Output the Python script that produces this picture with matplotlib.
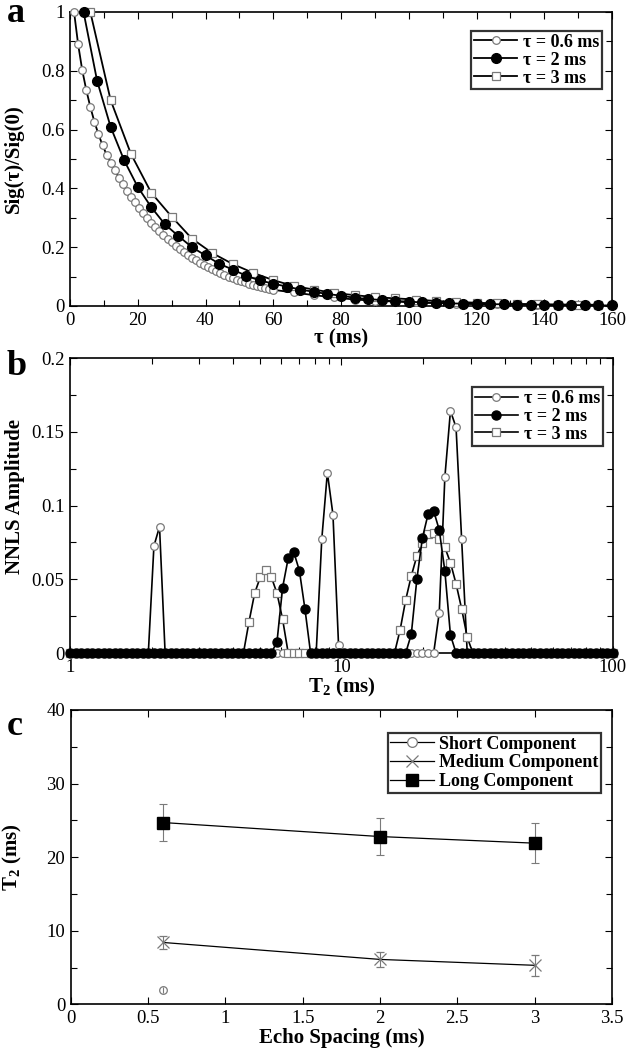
import numpy as np
import matplotlib
matplotlib.use("Agg")
import matplotlib.pyplot as plt
from matplotlib.lines import Line2D
from matplotlib.ticker import MultipleLocator, FixedLocator, FuncFormatter, NullFormatter

plt.rcParams["font.family"] = ["Liberation Serif", "DejaVu Serif"]
plt.rcParams["mathtext.fontset"] = "custom"
plt.rcParams["mathtext.rm"] = "Liberation Serif"
plt.rcParams["mathtext.bf"] = "Liberation Serif:bold"
plt.rcParams["mathtext.it"] = "Liberation Serif:italic"

# ---- (a) normalised decay, echo time (ms) vs Sig(t)/Sig(0)
t_06 = [1.2, 2.4, 3.6, 4.8, 6.0, 7.2, 8.4, 9.6, 10.8, 12.0, 13.2, 14.4, 15.6, 16.8,
        18.0, 19.2, 20.4, 21.6, 22.8, 24.0, 25.2, 26.4, 27.6, 28.8, 30.0, 31.2, 32.4,
        33.6, 34.8, 36.0, 37.2, 38.4, 39.6, 40.8, 42.0, 43.2, 44.4, 45.6, 46.8, 48.0,
        49.2, 50.4, 51.6, 52.8, 54.0, 55.2, 56.4, 57.6, 58.8, 60.0,
        66, 72, 78, 84, 90, 96, 102, 108, 114, 120, 126, 132, 138, 144, 150, 156]
sig_06 = [1.000, 0.890, 0.803, 0.735, 0.677, 0.627, 0.584, 0.547, 0.515, 0.488, 0.462,
          0.437, 0.414, 0.392, 0.372, 0.353, 0.335, 0.317, 0.300, 0.284, 0.269, 0.255,
          0.241, 0.228, 0.216, 0.204, 0.193, 0.183, 0.173, 0.164, 0.155, 0.147, 0.139,
          0.132, 0.125, 0.118, 0.112, 0.106, 0.100, 0.095, 0.090, 0.085, 0.080, 0.076,
          0.072, 0.068, 0.064, 0.061, 0.058, 0.055,
          0.046, 0.037, 0.029, 0.022, 0.018, 0.015, 0.012, 0.010, 0.008, 0.007, 0.006,
          0.005, 0.004, 0.004, 0.003, 0.003]

t_2 = [4, 8, 12, 16, 20, 24, 28, 32, 36, 40, 44, 48, 52, 56, 60, 64, 68, 72, 76, 80,
       84, 88, 92, 96, 100, 104, 108, 112, 116, 120, 124, 128, 132, 136, 140, 144, 148,
       152, 156, 160]
sig_2 = [1.000, 0.766, 0.609, 0.495, 0.405, 0.336, 0.278, 0.238, 0.200, 0.172, 0.144,
         0.124, 0.103, 0.087, 0.076, 0.066, 0.056, 0.048, 0.041, 0.035, 0.028, 0.024,
         0.020, 0.017, 0.015, 0.012, 0.011, 0.009, 0.008, 0.007, 0.006, 0.006, 0.005,
         0.005, 0.004, 0.004, 0.003, 0.003, 0.002, 0.002]

t_3 = [6, 12, 18, 24, 30, 36, 42, 48, 54, 60, 66, 72, 78, 84, 90, 96, 102, 108, 114,
       120, 126, 132, 138, 144, 150, 156]
sig_3 = [1.000, 0.700, 0.517, 0.385, 0.304, 0.229, 0.180, 0.143, 0.113, 0.088, 0.068,
         0.056, 0.044, 0.037, 0.030, 0.026, 0.022, 0.017, 0.014, 0.011, 0.009, 0.007,
         0.006, 0.005, 0.005, 0.004]

# ---- (b) NNLS spectra on a log-spaced T2 grid, non-zero bins: start index -> amplitudes
n_bins = 98
peaks_06 = {15: [0.0726, 0.0857],
            45: [0.0772, 0.1224, 0.0939, 0.0054],
            66: [0.0274, 0.1193, 0.1643, 0.1532, 0.0772]}
peaks_2 = {37: [0.0077, 0.0444, 0.0643, 0.0684, 0.0559, 0.0297],
           61: [0.0127, 0.0502, 0.0783, 0.0942, 0.0964, 0.0835, 0.0557, 0.0122]}
peaks_3 = {32: [0.0213, 0.0405, 0.0514, 0.0564, 0.0514, 0.0405, 0.0229],
           59: [0.0156, 0.0360, 0.0523, 0.0659, 0.0745, 0.0805, 0.0815, 0.0775,
                0.0717, 0.0613, 0.0470, 0.0300, 0.0107]}

# ---- (c) fitted T2 components vs echo spacing
echo = [0.6, 2, 3]
long_t2 = [24.7, 22.8, 21.9]
long_err = [2.5, 2.55, 2.7]
med_t2 = [8.4, 6.1, 5.3]
med_err = [0.95, 1.0, 1.4]
short_echo = [0.6]
short_t2 = [1.95]
short_err = [0.4]

GRAY = "#7a7a7a"
W, H = 626, 1050
tau_labels = ["τ = 0.6 ms", "τ = 2 ms", "τ = 3 ms"]

open_circle = dict(marker="o", ms=5.5, mfc="white", mec=GRAY, mew=0.9)
filled_circle = dict(marker="o", ms=7, mfc="black", mec="black")
open_square = dict(marker="s", ms=6, mfc="white", mec=GRAY, mew=0.9)


def px_axes(fig, left, right, top, bottom):
    return fig.add_axes([left / W, 1 - bottom / H, (right - left) / W, (bottom - top) / H])


def style_axes(ax):
    for s in ax.spines.values():
        s.set_linewidth(1.2)
    ax.tick_params(which="both", direction="in", top=True, right=True,
                   labelsize=13.5, width=0.8, pad=4)
    ax.tick_params(which="major", length=5)
    ax.tick_params(which="minor", length=4)


def boxed_legend(ax, handles, labels, x, y, fontsize=13, spacing=0.05):
    leg = ax.legend(handles, labels, loc="upper right", bbox_to_anchor=(x, y),
                    borderaxespad=0, prop={"weight": "bold", "size": fontsize},
                    fancybox=False, handlelength=2.4, handletextpad=0.3,
                    labelspacing=spacing, borderpad=0.15)
    leg.get_frame().set_edgecolor("black")
    leg.get_frame().set_linewidth(1.6)
    return leg


def spectrum(peaks):
    amp = np.zeros(n_bins)
    for start, vals in peaks.items():
        amp[start:start + len(vals)] = vals
    return amp


def fmt(v, p):
    return f"{v:g}"


fig = plt.figure(figsize=(W / 100, H / 100), dpi=100)

# ---------------- panel a
ax = px_axes(fig, 70, 612, 12, 306)
style_axes(ax)
l06, = ax.plot(t_06, sig_06, "-", color="black", lw=1.3, clip_on=False, zorder=3,
               **open_circle)
l3, = ax.plot(t_3, sig_3, "-", color="black", lw=1.3, clip_on=False, zorder=3,
              **open_square)
l2, = ax.plot(t_2, sig_2, "-", color="black", lw=1.3, clip_on=False, zorder=4,
              **filled_circle)
ax.set_xlim(0, 160)
ax.set_ylim(0, 1)
ax.xaxis.set_major_locator(MultipleLocator(20))
ax.xaxis.set_minor_locator(MultipleLocator(10))
ax.yaxis.set_major_locator(MultipleLocator(0.2))
ax.yaxis.set_minor_locator(MultipleLocator(0.1))
ax.xaxis.set_major_formatter(FuncFormatter(fmt))
ax.yaxis.set_major_formatter(FuncFormatter(fmt))
ax.set_xlabel("τ (ms)", fontsize=15, fontweight="bold")
ax.set_ylabel("Sig(τ)/Sig(0)", fontsize=15, fontweight="bold")
ax.xaxis.set_label_coords(0.5, -0.078)
ax.yaxis.set_label_coords(-0.085, 0.5)
boxed_legend(ax, [l06, l2, l3], tau_labels, 0.9815, 0.935)

# ---------------- panel b
t2_grid = np.logspace(0, 2, n_bins)
bx = px_axes(fig, 70, 612.7, 358.3, 653)
style_axes(bx)
bx.set_xscale("log")
m06, = bx.plot(t2_grid, spectrum(peaks_06), "-", color="black", lw=1.2, clip_on=False,
               zorder=3, **open_circle)
m3, = bx.plot(t2_grid, spectrum(peaks_3), "-", color="black", lw=1.2, clip_on=False,
              zorder=3, **open_square)
m2, = bx.plot(t2_grid, spectrum(peaks_2), "-", color="black", lw=1.2, clip_on=False,
              zorder=4, **dict(filled_circle, ms=6.5))
bx.set_xlim(1, 100)
bx.set_ylim(0, 0.2)
bx.xaxis.set_major_locator(FixedLocator([1, 10, 100]))
bx.xaxis.set_minor_locator(FixedLocator([k * d for d in (1, 10) for k in range(2, 10)]))
bx.xaxis.set_major_formatter(FuncFormatter(fmt))
bx.xaxis.set_minor_formatter(NullFormatter())
bx.yaxis.set_major_locator(MultipleLocator(0.05))
bx.yaxis.set_minor_locator(MultipleLocator(0.025))
bx.yaxis.set_major_formatter(FuncFormatter(fmt))
bx.set_xlabel(r"$\mathbf{T_2}$ (ms)", fontsize=15, fontweight="bold")
bx.set_ylabel("NNLS Amplitude", fontsize=15, fontweight="bold")
bx.xaxis.set_label_coords(0.5, -0.078)
bx.yaxis.set_label_coords(-0.083, 0.53)
boxed_legend(bx, [m06, m2, m3], tau_labels, 0.9815, 0.9016)

# ---------------- panel c
cx = px_axes(fig, 70.7, 612, 710, 1004.3)
style_axes(cx)
cx.errorbar(short_echo, short_t2, yerr=short_err, fmt="o", ms=5.5, mfc="none",
            mec=GRAY, mew=0.9, ecolor=GRAY, elinewidth=0.8, capsize=0)
cx.errorbar(echo, med_t2, yerr=med_err, fmt="x", ms=8, mec=GRAY, mew=0.9,
            ecolor=GRAY, elinewidth=0.8, capsize=3, capthick=0.8, color="black",
            ls="-", lw=0.9)
cx.errorbar(echo, long_t2, yerr=long_err, fmt="s", ms=8, mfc="black", mec="black",
            ecolor=GRAY, elinewidth=0.8, capsize=3, capthick=0.8, color="black",
            ls="-", lw=0.9)
cx.set_xlim(0, 3.5)
cx.set_ylim(0, 40)
cx.xaxis.set_major_locator(MultipleLocator(0.5))
cx.yaxis.set_major_locator(MultipleLocator(10))
cx.yaxis.set_minor_locator(MultipleLocator(5))
cx.xaxis.set_major_formatter(FuncFormatter(fmt))
cx.yaxis.set_major_formatter(FuncFormatter(fmt))
cx.set_xlabel("Echo Spacing (ms)", fontsize=15, fontweight="bold")
cx.set_ylabel(r"$\mathbf{T_2}$ (ms)", fontsize=15, fontweight="bold")
cx.xaxis.set_label_coords(0.5, -0.08)
cx.yaxis.set_label_coords(-0.087, 0.5)
comp_handles = [
    Line2D([], [], color="black", lw=0.9, marker="o", ms=7, mfc="white", mec=GRAY, mew=0.9),
    Line2D([], [], color="black", lw=0.9, marker="x", ms=8, mec=GRAY, mew=0.9),
    Line2D([], [], color="black", lw=0.9, marker="s", ms=8, mfc="black", mec="black"),
]
boxed_legend(cx, comp_handles, ["Short Component", "Medium Component", "Long Component"],
             0.98, 0.922, fontsize=13, spacing=0.1)

# panel letters
for letter, base in (("a", 22), ("b", 375), ("c", 735)):
    fig.text(7 / W, 1 - base / H, letter, fontsize=26, fontweight="bold",
             ha="left", va="baseline")

fig.savefig("out.png", dpi=100)
